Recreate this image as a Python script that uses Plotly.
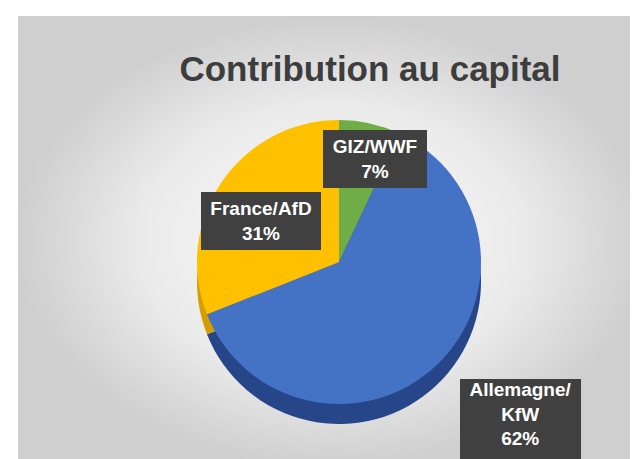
import plotly.graph_objects as go

# ---- data ----
categories = ["GIZ/WWF", "Allemagne/KfW", "France/AfD"]
display_labels = ["GIZ/WWF", "Allemagne/<br>KfW", "France/AfD"]
shares = [7, 62, 31]
colors = ["#70AD47", "#4472C4", "#FFC000"]
side_colors = ["#4F8532", "#27468A", "#D29E00"]
title_text = "Contribution au capital"

W, H = 638, 459

fig = go.Figure()

# background panel with soft radial gradient
fig.add_trace(go.Scatter(
    x=[10, W, W, 10, 10], y=[8, 8, H, H, 8],
    mode="lines", fill="toself", line=dict(width=0),
    fillgradient=dict(type="radial",
                      colorscale=[[0, "#fafafa"], [0.6, "#ebebeb"], [1, "#cfcfcf"]]),
    hoverinfo="skip", showlegend=False,
))

# depth layer (side of the 3D pie)
fig.add_trace(go.Pie(
    labels=categories, values=shares, sort=False, direction="clockwise", rotation=0,
    marker=dict(colors=side_colors, line=dict(width=0)),
    textinfo="none", hoverinfo="skip", showlegend=False,
    domain=dict(x=[(331 - 142) / W, (331 + 142) / W], y=[(H - 416) / H, (H - 132) / H]),
))

# top face
fig.add_trace(go.Pie(
    labels=categories, values=shares, sort=False, direction="clockwise", rotation=0,
    marker=dict(colors=colors, line=dict(width=0)),
    textinfo="none", showlegend=False,
    domain=dict(x=[(331 - 142) / W, (331 + 142) / W], y=[(H - 396) / H, (H - 112) / H]),
))

# data label boxes
label_pos = [  # (x center px, y px, yanchor, box w, box h)
    (367, 151, "middle", 104, 58),
    (512, 371, "top", 121, 100),
    (253, 213, "middle", 120, 58),
]
for lab, v, (cx, cy, ya, bw, bh) in zip(display_labels, shares, label_pos):
    fig.add_annotation(
        x=cx / W, y=1 - cy / H, xref="paper", yref="paper",
        xanchor="center", yanchor=ya, showarrow=False,
        text=f"<b>{lab}<br>{v}%</b>", align="center", valign="top" if ya == "top" else "middle",
        font=dict(family="Liberation Sans, Arial, sans-serif", size=19, color="white"),
        bgcolor="#404040", borderpad=0, borderwidth=0, width=bw, height=bh,
    )

fig.update_layout(
    width=W, height=H,
    margin=dict(l=0, r=0, t=0, b=0),
    paper_bgcolor="white", plot_bgcolor="rgba(0,0,0,0)",
    xaxis=dict(range=[0, W], visible=False, fixedrange=True),
    yaxis=dict(range=[H, 0], visible=False, fixedrange=True),
    title=dict(text=f"<b>{title_text}</b>", x=362 / W, xanchor="center",
               y=1 - 61 / H, yanchor="middle",
               font=dict(family="Liberation Sans, Arial, sans-serif", size=35, color="#3d3d3d")),
    showlegend=False,
)

fig.write_html("out.html")
